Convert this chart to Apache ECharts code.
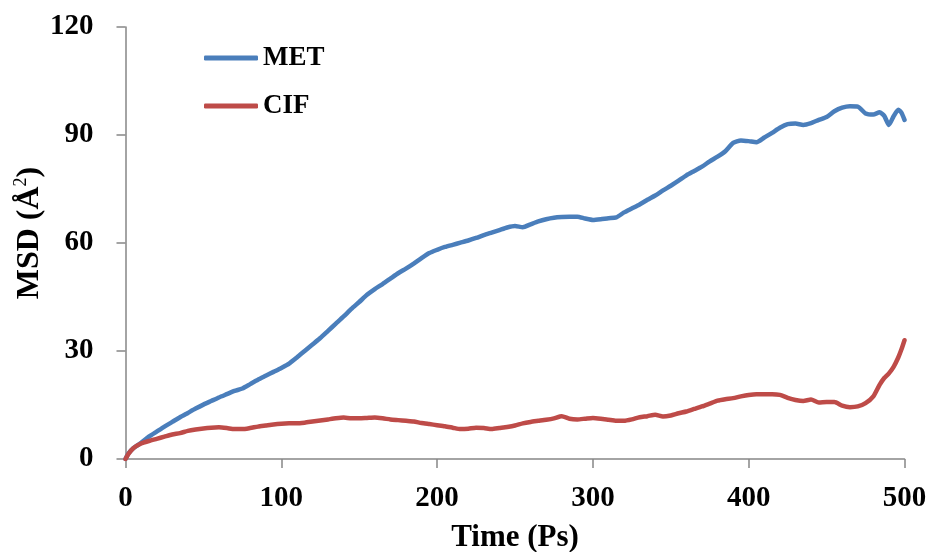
<!DOCTYPE html>
<html>
<head>
<meta charset="utf-8">
<script src="https://cdn.jsdelivr.net/npm/echarts@6/dist/echarts.min.js"></script>
<style>
  html, body { margin: 0; padding: 0; background: #ffffff; }
  #chart { width: 931px; height: 552px; }
</style>
</head>
<body>
<div id="chart"></div>
<script>
// Mean square displacement over simulation time
const metTime = [0,2,5,10,15,20,25,30,35,40,45,50,55,60,65,70,75,80,85,90,95,100,105,110,115,120,125,130,135,140,145,150,155,160,165,170,175,180,185,190,195,200,205,210,215,220,225,230,235,240,245,250,255,260,265,270,275,280,285,290,295,300,305,310,315,320,325,330,335,340,345,350,355,360,365,370,375,380,385,390,395,400,405,410,415,420,425,430,435,440,445,450,455,460,465,470,475,480,484,487,490,493,496,498,500];
const metMsd = [0,1.6,3.0,4.5,6.2,7.6,9.0,10.3,11.6,12.8,14.0,15.1,16.1,17.1,18.0,18.9,19.6,20.8,22.0,23.1,24.2,25.3,26.5,28.2,30.0,31.8,33.6,35.6,37.6,39.6,41.7,43.6,45.6,47.2,48.6,50.1,51.6,52.9,54.3,55.8,57.2,58.1,58.9,59.5,60.1,60.7,61.4,62.2,62.9,63.6,64.3,64.7,64.4,65.2,66.0,66.6,67.0,67.2,67.3,67.3,66.8,66.4,66.6,66.9,67.1,68.5,69.6,70.7,72.0,73.2,74.6,75.9,77.3,78.8,80.0,81.2,82.7,84.0,85.5,87.8,88.5,88.3,88.0,89.3,90.6,92.0,93.0,93.2,92.8,93.3,94.2,95.0,96.6,97.6,98.0,97.9,96.0,95.7,96.3,95.3,92.8,95.2,97.0,96.2,94.2];

const cifTime = [0,2,5,10,15,20,25,30,35,40,45,50,55,60,65,70,75,80,85,90,95,100,105,110,115,120,125,130,135,140,145,150,155,160,165,170,175,180,185,190,195,200,205,210,215,220,225,230,235,240,245,250,255,260,265,270,275,280,285,290,295,300,305,310,315,320,325,330,335,340,345,350,355,360,365,370,375,380,385,390,395,400,405,410,415,420,425,430,435,440,445,450,455,460,465,470,475,480,484,487,490,493,496,498,500];
const cifMsd = [0,1.5,3.0,4.3,5.0,5.6,6.2,6.8,7.2,7.8,8.2,8.5,8.7,8.8,8.6,8.3,8.3,8.6,9.0,9.3,9.6,9.8,9.9,9.9,10.1,10.4,10.7,11.0,11.3,11.5,11.3,11.3,11.4,11.5,11.3,11.0,10.8,10.6,10.4,10.0,9.7,9.4,9.1,8.7,8.3,8.4,8.7,8.6,8.3,8.6,8.9,9.3,9.9,10.3,10.6,10.9,11.3,11.9,11.2,11.0,11.2,11.4,11.2,10.9,10.6,10.6,11.0,11.6,11.9,12.3,11.8,12.1,12.7,13.2,13.9,14.6,15.4,16.2,16.6,16.9,17.4,17.8,18.0,18.0,18.0,17.8,17.0,16.4,16.1,16.5,15.7,15.8,15.8,14.8,14.4,14.6,15.5,17.4,20.6,22.5,23.8,25.6,28.2,30.4,33.0];

const seriesNames = ['MET', 'CIF'];
const seriesColors = ['#4a7ebb', '#be4b48'];
const xTicks = [0, 100, 200, 300, 400, 500];
const yTicks = [0, 30, 60, 90, 120];

const pairs = (xs, ys) => xs.map((x, i) => [x, ys[i]]);

const chart = echarts.init(document.getElementById('chart'), null, { renderer: 'canvas' });
const serif = '"Liberation Serif", "Times New Roman", serif';
const axisGray = '#868686';

chart.setOption({
  animation: false,
  backgroundColor: '#ffffff',
  grid: { left: 125.5, right: 26.5, top: 27, bottom: 93, containLabel: false, outerBoundsMode: 'none' },
  legend: {
    orient: 'vertical',
    left: 199,
    top: 38,
    icon: 'roundRect',
    itemWidth: 54,
    itemHeight: 5,
    itemGap: 18,
    data: seriesNames,
    textStyle: { fontFamily: serif, fontWeight: 'bold', fontSize: 27, color: '#000', lineHeight: 30 }
  },
  xAxis: {
    type: 'value',
    min: xTicks[0],
    max: xTicks[xTicks.length - 1],
    interval: xTicks[1] - xTicks[0],
    name: 'Time (Ps)',
    nameLocation: 'middle',
    nameGap: 63,
    nameMoveOverlap: false,
    nameTextStyle: { fontFamily: serif, fontWeight: 'bold', fontSize: 31, color: '#000' },
    axisLine: { show: true, lineStyle: { color: axisGray, width: 1.5 } },
    axisTick: { show: true, length: 9, lineStyle: { color: axisGray, width: 1.5 } },
    axisLabel: { margin: 25, fontFamily: serif, fontWeight: 'bold', fontSize: 29, color: '#000' },
    splitLine: { show: false }
  },
  yAxis: {
    type: 'value',
    min: yTicks[0],
    max: yTicks[yTicks.length - 1],
    interval: yTicks[1] - yTicks[0],
    name: 'MSD (Å{sup|2})',
    nameLocation: 'middle',
    nameGap: 79,
    nameMoveOverlap: false,
    nameTextStyle: {
      fontFamily: serif, fontWeight: 'bold', fontSize: 32, color: '#000',
      padding: [0, 0, 0, 20],
      rich: { sup: { fontFamily: serif, fontSize: 18, fontWeight: 'normal', color: '#000', padding: [0, 0, 16, 0] } }
    },
    axisLine: { show: true, lineStyle: { color: axisGray, width: 1.5 } },
    axisTick: { show: true, length: 9, lineStyle: { color: axisGray, width: 1.5 } },
    axisLabel: { margin: 32, fontFamily: serif, fontWeight: 'bold', fontSize: 29, color: '#000' },
    splitLine: { show: false }
  },
  series: [
    {
      name: seriesNames[0],
      type: 'line',
      data: pairs(metTime, metMsd),
      showSymbol: false,
      symbol: 'none',
      smooth: 0.2,
      color: seriesColors[0],
      lineStyle: { width: 4.5, color: seriesColors[0], cap: 'round', join: 'round' }
    },
    {
      name: seriesNames[1],
      type: 'line',
      data: pairs(cifTime, cifMsd),
      showSymbol: false,
      symbol: 'none',
      smooth: 0.2,
      color: seriesColors[1],
      lineStyle: { width: 4.5, color: seriesColors[1], cap: 'round', join: 'round' }
    }
  ]
});
</script>
</body>
</html>
